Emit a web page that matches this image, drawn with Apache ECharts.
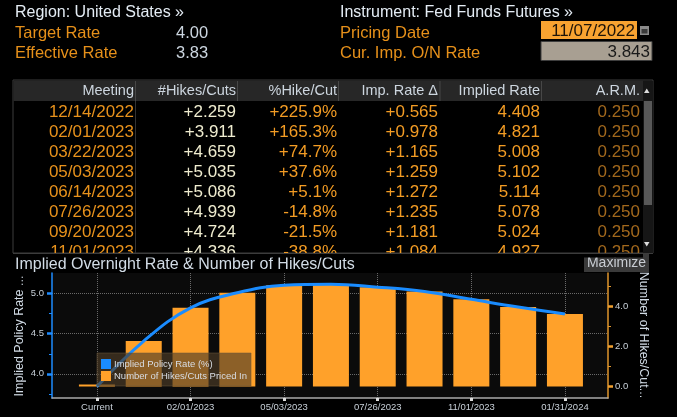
<!DOCTYPE html>
<html><head><meta charset="utf-8">
<script src="https://cdn.jsdelivr.net/npm/echarts@6/dist/echarts.min.js"></script>
<style>html,body{margin:0;padding:0;background:#000;}#c{width:677px;height:417px;}</style>
</head><body><div id="c"></div>
<script>
// ---- Table data ----
const tableHeaders = ['Meeting', '#Hikes/Cuts', '%Hike/Cut', 'Imp. Rate \u0394', 'Implied Rate', 'A.R.M.'];
const meetings = ['12/14/2022','02/01/2023','03/22/2023','05/03/2023','06/14/2023','07/26/2023','09/20/2023','11/01/2023'];
const hikesCuts = [2.259, 3.911, 4.659, 5.035, 5.086, 4.939, 4.724, 4.336];
const pctHikeCut = [225.9, 165.3, 74.7, 37.6, 5.1, -14.8, -21.5, -38.8];
const impRateDelta = [0.565, 0.978, 1.165, 1.259, 1.272, 1.235, 1.181, 1.084];
const impliedRate = [4.408, 4.821, 5.008, 5.102, 5.114, 5.078, 5.024, 4.927];
const arm = [0.250, 0.250, 0.250, 0.250, 0.250, 0.250, 0.250, 0.250];

// ---- Chart data ----
const chartCategories = ['Current','12/14/2022','02/01/2023','03/22/2023','05/03/2023','06/14/2023','07/26/2023','09/20/2023','11/01/2023','12/13/2023','01/31/2024'];
const chartHikes = [0, 2.259, 3.911, 4.659, 5.035, 5.086, 4.939, 4.724, 4.336, 3.95, 3.61];
const chartRate = [3.843, 4.408, 4.821, 5.008, 5.102, 5.114, 5.078, 5.024, 4.927, 4.830, 4.745];
const xLabelIdx = [0, 2, 4, 6, 8, 10];
const leftTicks = [4.0, 4.5, 5.0];
const leftMinor = [3.75, 4.25, 4.75];
const rightTicks = [0, 2, 4];
const rightMinor = [1, 3, 5];

const FONT = '"Liberation Sans", Arial, sans-serif';

function sgn(v, d) { return (v >= 0 ? '+' : '-') + Math.abs(v).toFixed(d); }
function txt(x, y, s, size, fill, align, extra) {
  return Object.assign({ type: 'text', x: x, y: y, z: 10,
    style: { text: s, fill: fill, font: size + 'px ' + FONT, align: align || 'left', verticalAlign: 'middle' } }, extra || {});
}
function rect(x, y, w, h, fill, stroke, z) {
  return { type: 'rect', z: z || 5, shape: { x: x, y: y, width: w, height: h },
    style: { fill: fill, stroke: stroke || null, lineWidth: stroke ? 1 : 0 } };
}
function line(x1, y1, x2, y2, color, z) {
  return { type: 'line', z: z || 6, shape: { x1: x1, y1: y1, x2: x2, y2: y2 }, style: { stroke: color, lineWidth: 1 } };
}

const g = [];
// Top info
g.push(txt(15, 13, 'Region: United States \u00bb', 16, '#e4ecf4'));
g.push(txt(15, 33, 'Target Rate', 16.5, '#e6901a'));
g.push(txt(176, 33, '4.00', 16.5, '#ccd6e0'));
g.push(txt(15, 53, 'Effective Rate', 16.5, '#e6901a'));
g.push(txt(176, 53, '3.83', 16.5, '#ccd6e0'));
g.push(txt(340, 13, 'Instrument: Fed Funds Futures \u00bb', 16, '#e4ecf4'));
g.push(txt(340, 33, 'Pricing Date', 16.5, '#e6901a'));
g.push(txt(340, 53, 'Cur. Imp. O/N Rate', 16.5, '#e6901a'));
g.push(rect(541, 21, 96, 18, '#f8a331'));
g.push(txt(635, 31, '11/07/2022', 17, '#1e1408', 'right'));
g.push(rect(640, 26, 9, 9, '#8a8a8a'));
g.push(rect(641.5, 29, 6, 4.5, '#3a3a3a'));
g.push(rect(541, 41.5, 111, 19, '#a89f92', '#3e3e3e'));
g.push(txt(650, 52, '3.843', 17, '#1a1a1a', 'right'));

// Table frame
g.push(rect(13, 80, 640, 173, '#000', '#3c3c3c', 4));
g.push(rect(13.5, 80.5, 630, 20.5, '#272727', null, 5));
const colRight = [134, 236, 337, 438, 540, 640];
const sepX = [135.5, 237.5, 338.5, 440, 541.5];
sepX.forEach(function (x) { g.push(line(x, 81, x, 101, '#474747', 6)); });
g.push(line(135.5, 101, 135.5, 253, '#333', 6));
tableHeaders.forEach(function (h, i) { g.push(txt(colRight[i], 91, h, 14.5, '#cdd6df', 'right')); });
// Scrollbar
g.push(rect(643, 81, 10, 172, '#161616', null, 6));
g.push(rect(644, 101, 8, 104, '#585858', null, 7));
g.push({ type: 'polygon', z: 8, shape: { points: [[644, 93], [649.5, 93], [646.75, 88.5]] }, style: { fill: '#dcdcdc' } });
g.push({ type: 'polygon', z: 8, shape: { points: [[644, 242], [649.5, 242], [646.75, 246.5]] }, style: { fill: '#dcdcdc' } });
// Rows
meetings.forEach(function (m, i) {
  const y = 112 + 20 * i;
  g.push(txt(colRight[0], y, m, 17, '#e8921c', 'right'));
  g.push(txt(colRight[1], y, sgn(hikesCuts[i], 3), 17, '#efeccf', 'right'));
  g.push(txt(colRight[2], y, sgn(pctHikeCut[i], 1) + '%', 17, '#f39c24', 'right'));
  g.push(txt(colRight[3], y, sgn(impRateDelta[i], 3), 17, '#f39c24', 'right'));
  g.push(txt(colRight[4], y, impliedRate[i].toFixed(3), 17, '#f39c24', 'right'));
  g.push(txt(colRight[5], y, arm[i].toFixed(3), 17, '#a2681c', 'right'));
});
// clip last row
g.push(rect(0, 253.5, 643, 4, '#000', null, 20));
g.push(line(13, 253.5, 653, 253.5, '#3c3c3c', 21));

// Chart title & maximize
g.push(txt(15, 264.5, 'Implied Overnight Rate & Number of Hikes/Cuts', 16, '#d2dce6'));
g.push(rect(584, 254, 65, 18, '#3a3a3a', null, 9));
g.push(txt(616.5, 263.5, 'Maximize', 14, '#c8ccd2', 'center'));
// axis names
g.push(txt(20, 336, 'Implied Policy Rate ...', 12.5, '#d2dce6', 'center', { rotation: Math.PI / 2 }));
g.push(txt(643, 335, 'Number of Hikes/Cut...', 12.5, '#d2dce6', 'center', { rotation: -Math.PI / 2 }));

const L_MIN = 3.7, L_MAX = 5.254, BASE = 3.843, STEP = 0.25;
const R_MIN = (L_MIN - BASE) / STEP, R_MAX = (L_MAX - BASE) / STEP;

const chart = echarts.init(document.getElementById('c'));
chart.setOption({
  animation: false,
  backgroundColor: '#000',
  textStyle: { fontFamily: FONT },
  grid: { left: 52, right: 69, top: 273, bottom: 19, show: true, backgroundColor: '#0b0b0b', borderWidth: 0 },
  legend: {
    left: 97, top: 353, orient: 'vertical', icon: 'rect', itemWidth: 10, itemHeight: 10, itemGap: 2,
    padding: [6, 4, 5, 4], backgroundColor: 'rgba(79,62,40,0.65)', borderColor: 'rgba(110,90,60,0.5)', borderWidth: 1,
    textStyle: { color: '#d8dde4', fontSize: 9.5, fontFamily: FONT, padding: [0, 0, 0, -2] },
    data: ['Implied Policy Rate (%)', 'Number of Hikes/Cuts Priced In']
  },
  xAxis: {
    type: 'value', min: -0.96, max: 10.92,
    axisLine: { onZero: false, lineStyle: { color: '#aaaaaa', width: 1.5 } },
    axisTick: { customValues: xLabelIdx, length: 3, lineStyle: { color: '#dddddd', width: 3 } },
    axisLabel: { customValues: xLabelIdx, formatter: function (v) { return chartCategories[Math.round(v)]; },
      color: '#c8d0d8', fontSize: 9.5, margin: 4 },
    splitLine: { show: true, lineStyle: { type: 'dotted', color: '#6a6a6a' } }
  },
  yAxis: [
    { type: 'value', min: L_MIN, max: L_MAX, position: 'left',
      axisLine: { show: true, onZero: false, lineStyle: { color: '#1e8cff', width: 1.5 } },
      axisTick: { show: true, customValues: leftTicks, length: 5, lineStyle: { color: '#1e8cff', width: 2.5 } },
      axisLabel: { customValues: leftTicks, formatter: function (v) { return v.toFixed(1); }, color: '#c8d0d8', fontSize: 9.5, margin: 8 },
      splitLine: { show: true, lineStyle: { type: 'dotted', color: '#6a6a6a' } } },
    { type: 'value', min: R_MIN, max: R_MAX, position: 'right',
      axisLine: { show: true, onZero: false, lineStyle: { color: '#e0962c', width: 1.5 } },
      axisTick: { show: true, customValues: rightTicks, length: 5, lineStyle: { color: '#f0a030', width: 2.5 } },
      axisLabel: { customValues: rightTicks, formatter: function (v) { return v.toFixed(1); }, color: '#c8d0d8', fontSize: 9.5, margin: 7 },
      splitLine: { show: false } },
    { type: 'value', min: L_MIN, max: L_MAX, position: 'left',
      axisLine: { show: false, onZero: false },
      axisTick: { show: true, customValues: leftMinor, length: 3, lineStyle: { color: '#1e8cff', width: 1 } },
      axisLabel: { show: false }, splitLine: { show: false } },
    { type: 'value', min: R_MIN, max: R_MAX, position: 'right',
      axisLine: { show: false, onZero: false },
      axisTick: { show: true, customValues: rightMinor, length: 3, lineStyle: { color: '#e0962c', width: 1 } },
      axisLabel: { show: false }, splitLine: { show: false } }
  ],
  series: [
    { name: 'Number of Hikes/Cuts Priced In', type: 'bar', yAxisIndex: 1, barWidth: 36, barMinHeight: 2,
      color: '#ffa12a', itemStyle: { color: '#ffa12a' },
      data: chartHikes.map(function (v, i) { return [i, v]; }) },
    { name: 'Implied Policy Rate (%)', type: 'line', yAxisIndex: 0, smooth: 0.4, symbol: 'none', z: 3,
      color: '#1a8cff', lineStyle: { color: '#1a8cff', width: 3 },
      data: chartRate.map(function (v, i) { return [i, v]; }) }
  ],
  graphic: g
});
</script>
</body></html>
